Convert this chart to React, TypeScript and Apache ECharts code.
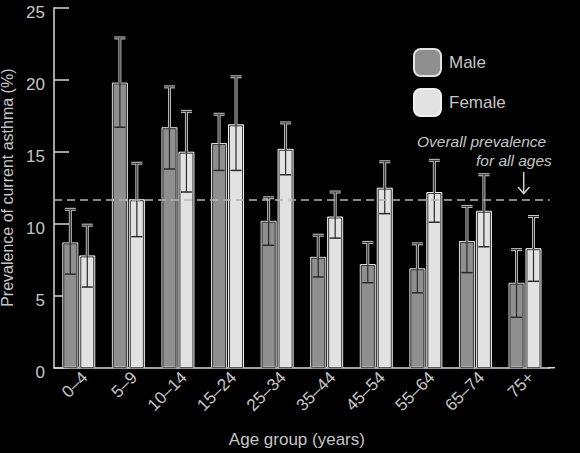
import React, { useEffect, useRef } from "react";
import * as echarts from "echarts";

const categories = ["0–4", "5–9", "10–14", "15–24", "25–34", "35–44", "45–54", "55–64", "65–74", "75+"];
const male = [8.7, 19.8, 16.7, 15.6, 10.2, 7.7, 7.2, 6.9, 8.8, 5.9];
const maleLow = [6.5, 16.7, 13.8, 13.7, 8.5, 6.3, 5.9, 5.2, 6.6, 3.5];
const maleHigh = [11.0, 22.9, 19.5, 17.6, 11.8, 9.2, 8.7, 8.6, 11.2, 8.2];
const female = [7.8, 11.7, 15.0, 16.9, 15.2, 10.5, 12.5, 12.2, 10.9, 8.3];
const femaleLow = [5.6, 9.1, 12.2, 13.7, 13.4, 9.0, 10.7, 10.1, 8.4, 6.0];
const femaleHigh = [9.9, 14.2, 17.8, 20.2, 17.0, 12.2, 14.3, 14.4, 13.4, 10.5];
const overallPrevalence = 11.65;
const yTicks = { min: 0, max: 25, interval: 5 };

const FONT = "'Liberation Sans', Arial, sans-serif";
const TEXT_COLOR = "#c6c6c6";
const txt = {
  color: TEXT_COLOR,
  fontFamily: FONT,
};

const BAR_W = 16;
const BAR_GAP_PCT = 0.06;
const OFFSET = (BAR_W + BAR_W * BAR_GAP_PCT) / 2;

function makeRender(sign: number) {
  return (params: any, api: any) => {
    const idx = api.value(0);
    const v = api.value(1);
    const lo = api.value(2);
    const hi = api.value(3);
    const c = api.coord([idx, v]);
    const x = c[0] + sign * OFFSET;
    const yTop = c[1];
    const yLo = api.coord([idx, lo])[1];
    const yHi = api.coord([idx, hi])[1];
    const y0 = api.coord([idx, 0])[1];
    const half = 5.5;
    const light = "#c8c8c8";
    const dark = "#2a2a2a";
    return {
      type: "group",
      children: [
        {
          type: "rect",
          shape: { x: x - BAR_W / 2 + 1.5, y: yTop + 1.5, width: BAR_W - 3, height: y0 - yTop - 1.5 },
          style: { fill: "none", stroke: "#3a3a3a", lineWidth: 1 },
        },
        {
          type: "line",
          shape: { x1: x, y1: yTop, x2: x, y2: yHi },
          style: { stroke: light, lineWidth: 3 },
        },
        {
          type: "line",
          shape: { x1: x - half, y1: yHi, x2: x + half, y2: yHi },
          style: { stroke: light, lineWidth: 3 },
        },
        {
          type: "line",
          shape: { x1: x, y1: yLo, x2: x, y2: yHi },
          style: { stroke: dark, lineWidth: 1.2 },
        },
        {
          type: "line",
          shape: { x1: x - half, y1: yHi, x2: x + half, y2: yHi },
          style: { stroke: dark, lineWidth: 1 },
        },
        {
          type: "line",
          shape: { x1: x - half, y1: yLo, x2: x + half, y2: yLo },
          style: { stroke: dark, lineWidth: 1.5 },
        },
      ],
    };
  };
}

export default function App() {
  const ref = useRef<HTMLDivElement>(null);
  useEffect(() => {
    if (!ref.current) return;
    const chart = echarts.init(ref.current, null, { renderer: "svg" });
    const maleErr = male.map((v, i) => [i, v, maleLow[i], maleHigh[i]]);
    const femaleErr = female.map((v, i) => [i, v, femaleLow[i], femaleHigh[i]]);
    chart.setOption({
      animation: false,
      backgroundColor: "#000",
      textStyle: { fontFamily: FONT },
      grid: {
        left: 54,
        right: 30.2,
        top: 7.7,
        bottom: 85.3,
        containLabel: false,
        outerBoundsMode: "none",
      },
      legend: {
        data: ["Male", "Female"],
        orient: "vertical",
        left: 413,
        top: 48,
        padding: 0,
        itemWidth: 27,
        itemHeight: 27,
        itemGap: 11,
        textStyle: { ...txt, fontSize: 17, padding: [0, 0, 0, 3] },
      },
      xAxis: {
        type: "category",
        data: categories,
        name: "Age group (years)",
        nameLocation: "middle",
        nameGap: 63,
        nameTextStyle: { ...txt, fontSize: 17, padding: [0, 10, 0, 0] },
        axisLine: { lineStyle: { color: "#d8d8d8", width: 1.5 } },
        axisTick: { show: false },
        axisLabel: { ...txt, fontSize: 17, rotate: 45, margin: 1, interval: 0, verticalAlign: "top" },
      },
      yAxis: {
        type: "value",
        min: yTicks.min,
        max: yTicks.max,
        interval: yTicks.interval,
        name: "Prevalence of current asthma (%)",
        nameLocation: "middle",
        nameGap: 37,
        nameRotate: 90,
        nameTextStyle: { ...txt, fontSize: 16 },
        axisLine: { show: true, lineStyle: { color: "#d8d8d8", width: 1.5 } },
        axisTick: { show: true, inside: true, length: 15, lineStyle: { color: "#d8d8d8", width: 1.5 } },
        axisLabel: { ...txt, fontSize: 17, margin: 9, verticalAlign: "top", lineHeight: 10 },
        splitLine: { show: false },
      },
      graphic: [
        {
          type: "line",
          shape: { x1: 548, y1: 367.7, x2: 555, y2: 367.7 },
          style: { stroke: "#d8d8d8", lineWidth: 1.5 },
        },
        {
          type: "text",
          left: 417,
          top: 133,
          style: {
            text: "Overall prevalence",
            fill: TEXT_COLOR,
            font: "italic 15.5px 'Liberation Sans', Arial, sans-serif",
          },
        },
        {
          type: "text",
          left: 476,
          top: 152,
          style: {
            text: "for all ages",
            fill: TEXT_COLOR,
            font: "italic 15.5px 'Liberation Sans', Arial, sans-serif",
          },
        },
        {
          type: "polyline",
          shape: { points: [[523.7, 172], [523.7, 193]] },
          style: { stroke: "#d2d2d2", lineWidth: 1.5, fill: "none" },
        },
        {
          type: "polyline",
          shape: { points: [[518, 187], [523.7, 193.5], [529.5, 187]] },
          style: { stroke: "#d2d2d2", lineWidth: 1.5, fill: "none" },
        },
      ],
      series: [
        {
          name: "overall",
          type: "line",
          data: [],
          z: 1,
          silent: true,
          markLine: {
            silent: true,
            symbol: "none",
            label: { show: false },
            lineStyle: { color: "#b4b4b4", width: 1.5, type: [8, 5] },
            data: [{ yAxis: overallPrevalence }],
          },
        },
        {
          name: "Male",
          type: "bar",
          data: male,
          barWidth: BAR_W,
          barGap: BAR_GAP_PCT * 100 + "%",
          z: 2,
          itemStyle: { color: "#8f8f8f", borderColor: "#e2e2e2", borderWidth: 1 },
        },
        {
          name: "Female",
          type: "bar",
          data: female,
          barWidth: BAR_W,
          barGap: BAR_GAP_PCT * 100 + "%",
          z: 2,
          itemStyle: { color: "#e2e2e2", borderColor: "#f0f0f0", borderWidth: 1 },
        },
        {
          name: "Male error",
          type: "custom",
          data: maleErr,
          z: 3,
          renderItem: makeRender(-1),
          encode: { x: 0, y: [1, 2, 3] },
        },
        {
          name: "Female error",
          type: "custom",
          data: femaleErr,
          z: 3,
          renderItem: makeRender(1),
          encode: { x: 0, y: [1, 2, 3] },
        },
      ],
    });
    return () => chart.dispose();
  }, []);
  return (
    <div
      ref={ref}
      style={{ position: "fixed", left: 0, top: 0, width: 580, height: 453, background: "#000" }}
    />
  );
}
